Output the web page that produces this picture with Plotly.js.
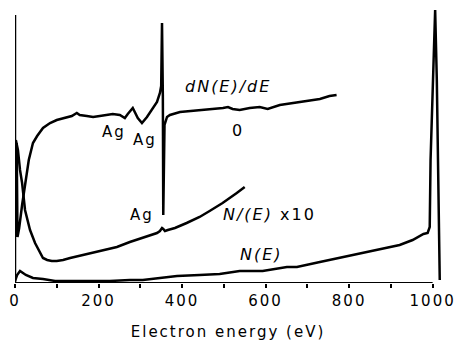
<!DOCTYPE html>
<html>
<head>
<meta charset="utf-8">
<script src="https://cdn.plot.ly/plotly-3.0.1.min.js"></script>
<style>
  html, body { margin: 0; padding: 0; background: #fff; }
  #chart { width: 455px; height: 342px; }
  #chart .main-svg text { letter-spacing: 2px; }
</style>
</head>
<body>
<div id="chart"></div>
<script>
// Electron energy (eV) and intensity (arbitrary units)
const dNdE_energy = [1, 4, 6, 10, 17, 24, 33, 43, 53, 67, 84, 100, 124, 136, 148, 155, 172, 187, 203, 220, 234, 251, 263, 270, 282, 294, 304, 316, 328, 340, 347, 350, 352, 354, 355, 358, 364, 371, 395, 419, 459, 498, 510, 521, 538, 562, 586, 605, 634, 665, 698, 730, 753, 770];
const dNdE_value  = [46, 140, 46, 55, 78, 98, 123, 140, 147, 155, 160, 163, 166, 167, 170, 168, 167, 166, 167, 168, 169, 168, 165, 169, 175, 165, 160, 166, 173, 181, 190, 197, 260, 188, 68, 158, 166, 168, 171, 172, 173, 175, 176, 174, 173, 175, 176, 174, 178, 180, 182, 184, 187, 188];

const dNx10_energy = [2, 7, 12, 17, 24, 36, 48, 60, 67, 77, 88, 100, 115, 132, 163, 203, 244, 275, 316, 340, 347, 352, 355, 359, 366, 383, 411, 442, 466, 497, 531, 550];
const dNx10_value  = [143, 133, 113, 100, 73, 53, 40, 30, 25, 23, 22, 22, 23, 25, 28, 32, 36, 41, 47, 50, 52, 55, 54, 52, 53, 55, 60, 66, 72, 80, 90, 96];

const NE_energy = [0, 5, 12, 19, 26, 43, 67, 96, 132, 179, 227, 275, 306, 347, 388, 442, 490, 538, 593, 651, 675, 730, 809, 873, 921, 952, 969, 978, 988, 993, 995, 1000, 1006, 1010, 1014, 1017];
const NE_value  = [2, 8, 12, 10, 8, 5, 4, 2, 2, 2, 2, 3, 3, 5, 7, 8, 9, 12, 12, 16, 16, 21, 28, 33, 38, 43, 47, 49, 50, 56, 123, 203, 273, 203, 103, 3];

const tickValues = [0, 100, 200, 300, 400, 500, 600, 700, 800, 900, 1000];
const tickLabels = ["0", "", "200", "", "400", "", "600", "", "800", "", "1000"];

const labels = [
  {text: "<i>dN(E)/dE</i>", x: 512, y: 197, size: 16},
  {text: "0", x: 533, y: 153, size: 16},
  {text: "Ag", x: 237, y: 151, size: 15},
  {text: "Ag", x: 311, y: 143, size: 15},
  {text: "Ag", x: 304, y: 68, size: 15},
  {text: "<i>N/(E)</i> x10", x: 610, y: 69, size: 16},
  {text: "<i>N(E)</i>", x: 591, y: 29, size: 16}
];

const lineStyle = {color: "#000", width: 2.5};
const traces = [
  {x: dNdE_energy, y: dNdE_value, mode: "lines", line: lineStyle, name: "dN(E)/dE"},
  {x: dNx10_energy, y: dNx10_value, mode: "lines", line: lineStyle, name: "N'(E) x10"},
  {x: NE_energy, y: NE_value, mode: "lines", line: lineStyle, name: "N(E)"}
];

const font = {family: "DejaVu Sans, Arial, sans-serif", color: "#000"};

const layout = {
  width: 455, height: 342,
  margin: {l: 15, r: 14, t: 8, b: 59},
  paper_bgcolor: "#fff", plot_bgcolor: "#fff",
  showlegend: false,
  font: Object.assign({size: 15}, font),
  xaxis: {
    range: [0, 1020], showgrid: false, zeroline: false, showline: false,
    tickmode: "array", tickvals: tickValues, ticktext: tickLabels,
    ticks: "outside", ticklen: 4, tickwidth: 2, tickcolor: "#000",
    tickfont: Object.assign({size: 15}, font),
    title: {text: "Electron energy (eV)", font: Object.assign({size: 15}, font), standoff: 17}
  },
  yaxis: {
    range: [0, 275], showgrid: false, zeroline: false, showline: false,
    showticklabels: false, ticks: ""
  },
  shapes: [
    {type: "line", xref: "x", yref: "y", x0: 0, x1: 1000, y0: 0, y1: 0, line: {color: "#000", width: 2}},
    {type: "line", xref: "x", yref: "y", x0: 0, x1: 0, y0: 0, y1: 268, line: {color: "#000", width: 2.5}}
  ],
  annotations: labels.map(l => ({
    text: l.text, x: l.x, y: l.y, xref: "x", yref: "y", showarrow: false,
    font: Object.assign({size: l.size}, font)
  }))
};

Plotly.newPlot("chart", traces, layout, {displayModeBar: false, staticPlot: true});
</script>
</body>
</html>
